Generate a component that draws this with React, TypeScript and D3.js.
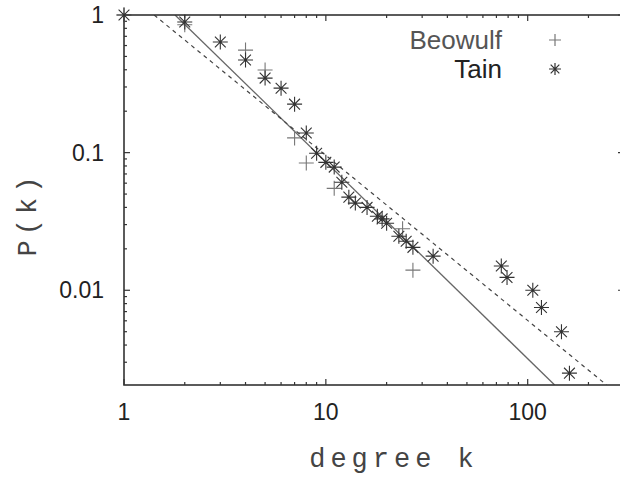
import React, { useEffect, useRef } from 'react';
import * as d3 from 'd3';

// degree distribution P(k)
const beowulfK = [1, 2, 4, 5, 7, 8, 11, 24, 27];
const beowulfP = [1, 0.85, 0.556, 0.398, 0.128, 0.084, 0.055, 0.028, 0.014];

const tainK = [1, 2, 3, 4, 5, 6, 7, 8, 9, 10, 11, 12, 13, 14, 16, 18, 19, 20, 23, 25, 27, 34, 74, 79, 106, 117, 147, 161];
const tainP = [
  1, 0.89, 0.637, 0.471, 0.348, 0.294, 0.225, 0.139, 0.099, 0.085, 0.0785, 0.061, 0.0475, 0.043, 0.04,
  0.0345, 0.033, 0.0307, 0.0247, 0.0227, 0.0205, 0.0177, 0.015, 0.0124, 0.01, 0.0075, 0.005, 0.0025,
];

// power-law fits (end points)
const fitSolidK = [1.79, 136];
const fitSolidP = [1, 0.00205];
const fitDashedK = [1.41, 246];
const fitDashedP = [1, 0.00205];

const xTickValues = [1, 10, 100];
const xTickLabels = ['1', '10', '100'];
const yTickValues = [1, 0.1, 0.01];
const yTickLabels = ['1', '0.1', '0.01'];

const seriesNames = ['Beowulf', 'Tain'];

const App = () => {
  const svgRef = useRef(null);

  useEffect(() => {
    const svg = d3.select(svgRef.current);
    svg.selectAll('*').remove();

    const width = 620;
    const height = 477;
    const left = 124;
    const right = 624;
    const top = 15;
    const bottom = 385;
    const axisColor = '#333';

    const x = d3.scaleLog().domain([1, 300]).range([left, right]);
    const y = d3.scaleLog().domain([0.00205, 1]).range([bottom, top]);

    svg.append('rect').attr('width', width).attr('height', height).attr('fill', '#fff');

    svg
      .append('clipPath')
      .attr('id', 'plot-clip')
      .append('rect')
      .attr('x', left)
      .attr('y', top)
      .attr('width', right - left)
      .attr('height', bottom - top);

    // ticks (inward, mirrored)
    const ticks = svg.append('g').attr('stroke', axisColor).attr('stroke-width', 1.2);
    const xMinor = [];
    for (let d = 1; d <= 100; d *= 10) for (let m = 2; m <= 9; m++) if (d * m <= 300) xMinor.push(d * m);
    const yMinor = [];
    for (let d = 0.001; d <= 0.1; d *= 10) for (let m = 2; m <= 9; m++) if (d * m >= 0.00205) yMinor.push(d * m);

    const xt = [...xTickValues.map((v) => [v, 6]), ...xMinor.map((v) => [v, 3])];
    xt.forEach(([v, len]) => {
      ticks.append('line').attr('x1', x(v)).attr('x2', x(v)).attr('y1', bottom).attr('y2', bottom - len);
      ticks.append('line').attr('x1', x(v)).attr('x2', x(v)).attr('y1', top).attr('y2', top + len);
    });
    const yt = [...yTickValues.map((v) => [v, 6]), ...yMinor.map((v) => [v, 3])];
    yt.forEach(([v, len]) => {
      ticks.append('line').attr('x1', left).attr('x2', left + len).attr('y1', y(v)).attr('y2', y(v));
      ticks.append('line').attr('x1', right).attr('x2', right - len).attr('y1', y(v)).attr('y2', y(v));
    });

    // fit lines
    const line = d3
      .line()
      .x((d) => x(d[0]))
      .y((d) => y(d[1]));
    const plot = svg.append('g').attr('clip-path', 'url(#plot-clip)');
    plot
      .append('path')
      .datum(d3.zip(fitSolidK, fitSolidP))
      .attr('fill', 'none')
      .attr('stroke', '#666')
      .attr('stroke-width', 1.3)
      .attr('d', line);
    plot
      .append('path')
      .datum(d3.zip(fitDashedK, fitDashedP))
      .attr('fill', 'none')
      .attr('stroke', '#444')
      .attr('stroke-width', 1.2)
      .attr('stroke-dasharray', '4,4')
      .attr('d', line);

    // frame
    svg
      .append('rect')
      .attr('x', left)
      .attr('y', top)
      .attr('width', right - left)
      .attr('height', bottom - top)
      .attr('fill', 'none')
      .attr('stroke', axisColor)
      .attr('stroke-width', 1.6);

    const plusPath = (r) => `M${-r},0H${r}M0,${-r}V${r}`;
    const starPath = (r) => {
      const q = r * 0.72;
      return `M${-r},0H${r}M0,${-r}V${r}M${-q},${-q}L${q},${q}M${-q},${q}L${q},${-q}`;
    };

    // Beowulf points
    svg
      .append('g')
      .selectAll('path')
      .data(d3.zip(beowulfK, beowulfP))
      .join('path')
      .attr('transform', (d) => `translate(${x(d[0])},${y(d[1])})`)
      .attr('d', plusPath(7.5))
      .attr('stroke', '#777')
      .attr('stroke-width', 1.1)
      .attr('fill', 'none');

    // Tain points
    svg
      .append('g')
      .selectAll('path')
      .data(d3.zip(tainK, tainP))
      .join('path')
      .attr('transform', (d) => `translate(${x(d[0])},${y(d[1])})`)
      .attr('d', starPath(7.5))
      .attr('stroke', '#333')
      .attr('stroke-width', 1.1)
      .attr('fill', 'none');

    // tick labels
    const labelFont = '"Liberation Sans", Arial, sans-serif';
    xTickValues.forEach((v, i) => {
      svg
        .append('text')
        .attr('x', x(v))
        .attr('y', 420)
        .attr('text-anchor', 'middle')
        .attr('font-family', labelFont)
        .attr('font-size', 23)
        .attr('fill', '#222')
        .text(xTickLabels[i]);
    });
    yTickValues.forEach((v, i) => {
      svg
        .append('text')
        .attr('x', 104)
        .attr('y', y(v) + 8)
        .attr('text-anchor', 'end')
        .attr('font-family', labelFont)
        .attr('font-size', 23)
        .attr('fill', '#222')
        .text(yTickLabels[i]);
    });

    // axis titles
    const monoFont = '"Liberation Mono", "DejaVu Sans Mono", monospace';
    svg
      .append('text')
      .attr('x', 394)
      .attr('y', 467)
      .attr('text-anchor', 'middle')
      .attr('font-family', monoFont)
      .attr('font-size', 27)
      .attr('letter-spacing', 5)
      .attr('fill', '#444')
      .text('degree k');
    svg
      .append('text')
      .attr('transform', 'translate(36,214) rotate(-90)')
      .attr('text-anchor', 'middle')
      .attr('font-family', monoFont)
      .attr('font-size', 27)
      .attr('letter-spacing', 5)
      .attr('fill', '#444')
      .text('P(k)');

    // legend
    const legend = svg.append('g');
    const legendPaths = [plusPath(6), starPath(6)];
    const legendStroke = ['#777', '#333'];
    seriesNames.forEach((name, i) => {
      const ly = 40 + i * 29;
      legend
        .append('text')
        .attr('x', 502)
        .attr('y', ly + 9)
        .attr('text-anchor', 'end')
        .attr('font-family', labelFont)
        .attr('font-size', 26)
        .attr('fill', i === 0 ? '#555' : '#222')
        .text(name);
      legend
        .append('path')
        .attr('transform', `translate(555,${ly})`)
        .attr('d', legendPaths[i])
        .attr('stroke', legendStroke[i])
        .attr('stroke-width', 1.2)
        .attr('fill', 'none');
    });
  }, []);

  return <svg ref={svgRef} width={620} height={477} style={{ position: 'absolute', left: 0, top: 0 }}></svg>;
};

export default App;
